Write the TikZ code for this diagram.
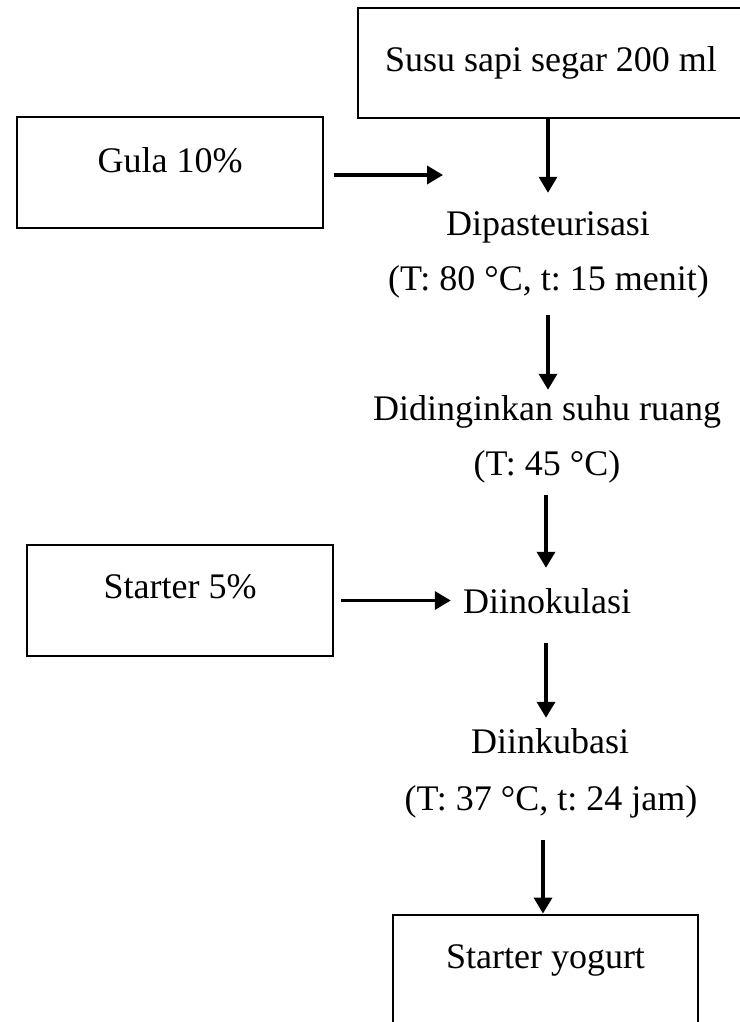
\documentclass[tikz,border=0pt]{standalone}
\usepackage{fontspec}
\setmainfont{Liberation Serif}
\usetikzlibrary{arrows.meta}
\begin{document}
\frenchspacing
\begin{tikzpicture}[x=1pt,y=-1pt,
  font=\fontsize{36}{44}\selectfont\frenchspacing,
  boxnode/.style={draw, line width=2.9pt, inner sep=0pt, minimum height=111pt},
  txt/.style={inner sep=0pt, anchor=base, text height=26pt, text depth=8pt},
  arr/.style={line width=3.5pt, -{Triangle[length=16pt,width=18pt]}}]
\useasboundingbox (0,0) rectangle (739,1022);
% boxes
\node[boxnode, minimum width=386pt, minimum height=110pt] (susu) at (551,63) {Susu sapi segar 200 ml};
\node[boxnode, minimum width=306pt, text height=25pt, text depth=26pt] (gula) at (170,172.5) {Gula 10\%};
\node[boxnode, minimum width=306pt, text height=25pt, text depth=30pt] (starter) at (180,600.5) {Starter 5\%};
\node[boxnode, minimum width=305pt, text height=25pt, text depth=30pt] (yog) at (545.5,970.5) {Starter yogurt};
% process texts
\node[txt] (d1a) at (548,235) {Dipasteurisasi};
\node[txt] (d1b) at (548.5,290) {(T: 80 °C, t: 15 menit)};
\node[txt] (d2a) at (547,420) {Didinginkan suhu ruang};
\node[txt] (d2b) at (547,475) {(T: 45 °C)};
\node[txt] (d3) at (547,613) {Diinokulasi};
\node[txt] (d4a) at (550,753) {Diinkubasi};
\node[txt] (d4b) at (551,810) {(T: 37 °C, t: 24 jam)};
\coordinate (gend) at (443,175);
% connectors
\draw[arr, shorten >=16pt] (susu.south -| 548,0) -- (d1a.north -| 548,0);
\draw[arr, shorten <=10pt] (gula.east |- gend) -- (gend);
\draw[arr, shorten <=17pt, shorten >=4pt] (d1b.south -| 548,0) -- (d2a.north -| 548,0);
\draw[arr, shorten <=12pt, shorten >=19pt] (d2b.south -| 546,0) -- (d3.north -| 546,0);
\draw[arr, shorten <=7pt, shorten >=12pt] (starter.east) -- (starter.east -| d3.west);
\draw[arr, shorten <=22pt, shorten >=9pt] (d3.south -| 546,0) -- (d4a.north -| 546,0);
\draw[arr, shorten <=22pt] (d4b.south -| 543,0) -- (yog.north -| 543,0);
\end{tikzpicture}
\end{document}
